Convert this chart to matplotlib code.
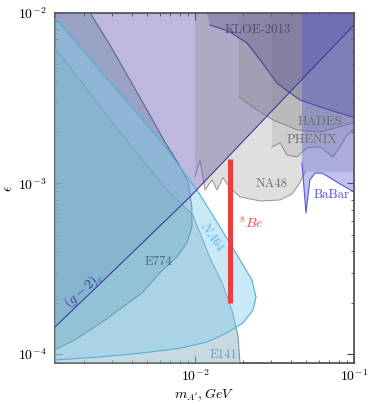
import matplotlib
matplotlib.use('Agg')
import matplotlib.pyplot as plt

plt.rcParams['font.family'] = 'serif'
plt.rcParams['font.serif'] = ['cmr10']
plt.rcParams['mathtext.fontset'] = 'cm'
plt.rcParams['axes.formatter.use_mathtext'] = True

# axis range
x_min, x_max = 1.317e-3, 0.1
y_min, y_max = 8.85e-5, 1e-2
# points used to close regions outside the visible frame
x_out_lo, x_out_hi = 1e-3, 0.2
y_out_lo, y_out_hi = 5e-5, 2e-2

# (g-2)_e bound
g2_mass = [1e-3, 1.317e-3, 3.38e-3, 9.30e-3, 3.96e-2, 0.1, 0.12]
g2_eps = [1.08e-4, 1.44e-4, 3.35e-4, 8.34e-4, 3.44e-3, 8.51e-3, 1.0e-2]

# E774 boundary (from top edge round to left edge)
e774_mass = [2.19e-3, 2.92e-3, 3.90e-3, 5.21e-3, 6.47e-3, 7.82e-3, 9.04e-3, 9.57e-3,
             9.57e-3, 8.91e-3, 7.70e-3, 6.02e-3, 4.65e-3, 2.72e-3, 1.76e-3, 1.317e-3, 1e-3]
e774_eps = [1e-2, 6.49e-3, 4.05e-3, 2.52e-3, 1.75e-3, 1.32e-3, 1.02e-3, 7.28e-4,
            5.56e-4, 4.48e-4, 3.71e-4, 2.99e-4, 2.28e-4, 1.58e-4, 1.21e-4, 1.06e-4, 9.5e-5]

# E141 boundary
e141_mass = [1e-3, 1.317e-3, 3.38e-3, 6.67e-3, 9.71e-3, 1.243e-2, 1.50e-2, 1.73e-2, 1.86e-2, 1.92e-2, 1.92e-2]
e141_eps = [7.6e-3, 6.23e-3, 2.0e-3, 9.16e-4, 6.53e-4, 3.66e-4, 2.54e-4, 1.74e-4, 1.29e-4, 8.85e-5, 5e-5]

# NA64 boundary
na64_mass = [1e-3, 1.317e-3, 3.38e-3, 6.02e-3, 1.03e-2, 1.436e-2, 1.92e-2, 2.28e-2, 2.42e-2, 2.32e-2,
             2.00e-2, 1.59e-2, 1.19e-2, 8.05e-3, 4.51e-3, 2.53e-3, 1.317e-3, 1e-3]
na64_eps = [1.3e-2, 9.35e-3, 3.35e-3, 1.80e-3, 9.16e-4, 5.56e-4, 3.56e-4, 2.72e-4, 2.16e-4, 1.81e-4,
            1.52e-4, 1.33e-4, 1.175e-4, 1.08e-4, 1.01e-4, 9.6e-5, 9.22e-5, 9.0e-5]

# NA48 lower boundary (first point is the top of its left edge)
na48_mass = [1e-2, 1e-2, 1.075e-2, 1.156e-2, 1.28e-2, 1.375e-2, 1.50e-2, 1.66e-2, 1.92e-2,
             2.57e-2, 3.43e-2, 4.07e-2, 4.57e-2, 4.92e-2]
na48_eps = [1e-2, 1.09e-3, 1.37e-3, 9.16e-4, 1.05e-3, 9.16e-4, 1.08e-3, 9.41e-4, 8.34e-4,
            7.89e-4, 8.0e-4, 8.67e-4, 1.01e-3, 1.17e-3]

# HADES lower boundary
hades_mass = [1.89e-2, 1.89e-2, 2.45e-2, 3.10e-2, 4.38e-2, 6.11e-2, 9.86e-2]
hades_eps = [1e-2, 3.22e-3, 2.70e-3, 2.36e-3, 2.06e-3, 2.00e-3, 2.26e-3]

# PHENIX lower boundary
phenix_mass = [3.05e-2, 3.05e-2, 3.43e-2, 3.79e-2, 4.38e-2, 5.06e-2, 6.11e-2, 7.38e-2, 8.17e-2, 9.04e-2, 9.86e-2]
phenix_eps = [1e-2, 1.64e-3, 1.73e-3, 1.47e-3, 1.43e-3, 1.62e-3, 1.64e-3, 1.43e-3, 1.64e-3, 1.92e-3, 2.06e-3]

# KLOE-2013 lower boundary
kloe_mass = [9.71e-3, 1.243e-2, 1.66e-2, 2.12e-2, 2.57e-2, 3.28e-2, 3.96e-2, 4.57e-2, 6.11e-2, 9.86e-2, 0.11]
kloe_eps = [1e-2, 8.51e-3, 7.74e-3, 6.67e-3, 5.30e-3, 3.88e-3, 3.40e-3, 3.09e-3, 2.81e-3, 2.45e-3, 2.4e-3]

# BaBar lower boundary
babar_mass = [4.71e-2, 4.71e-2, 4.99e-2, 5.28e-2, 5.69e-2, 6.30e-2, 7.07e-2, 8.17e-2, 0.1, 0.11]
babar_eps = [1e-2, 1.32e-3, 6.71e-4, 1.05e-3, 1.15e-3, 1.15e-3, 1.08e-3, 9.93e-4, 8.91e-4, 8.6e-4]

# 8Be anomaly
be8_mass = 0.0166
be8_eps = [2.0e-4, 1.39e-3]

fig = plt.figure(figsize=(3.74, 4.05), dpi=100)
ax = fig.add_axes([0.147, 0.1037, 0.7995, 0.8643])
ax.set_xscale('log')
ax.set_yscale('log')

# (g-2)_e excluded area
ax.fill_between(g2_mass, g2_eps, y_out_hi, facecolor='#8c7dc3', alpha=0.55, lw=0, zorder=1)

grey_edge = (0.45, 0.45, 0.45, 0.75)


def top_region(mass, eps, face, edge, lw, z):
    # region above a lower boundary, reaching the top and right of the frame
    ax.fill(mass + [x_out_hi, x_out_hi], [y_out_hi] + eps[1:] + [eps[-1], y_out_hi],
            facecolor=face, lw=0, zorder=z)
    ax.plot(mass[1:], eps[1:], color=edge, lw=lw, zorder=z)


top_region(na48_mass, na48_eps, (0.5, 0.5, 0.5, 0.25), grey_edge, 0.7, 2)
top_region(hades_mass, hades_eps, (0.5, 0.5, 0.5, 0.25), grey_edge, 0.7, 2)
top_region(phenix_mass, phenix_eps, (0.5, 0.5, 0.5, 0.18), grey_edge, 0.7, 2)
top_region(kloe_mass, kloe_eps, (0.31, 0.31, 0.55, 0.3), (0.24, 0.24, 0.55, 0.9), 0.8, 3)
top_region(babar_mass, babar_eps, (0.31, 0.31, 0.82, 0.35), (0.28, 0.28, 0.88, 0.9), 0.8, 3)

ax.fill(e141_mass + [x_out_lo], e141_eps + [y_out_lo],
        facecolor=(0.57, 0.71, 0.77, 0.5), edgecolor=(0.31, 0.53, 0.66, 0.9), lw=0.7, zorder=4)
ax.fill(e774_mass + [x_out_lo, x_out_lo], e774_eps + [y_out_hi, y_out_hi],
        facecolor=(0.33, 0.47, 0.59, 0.35), edgecolor=(0.25, 0.37, 0.47, 0.9), lw=0.7, zorder=4)
ax.fill(na64_mass, na64_eps,
        facecolor=(0.53, 0.81, 0.92, 0.45), edgecolor=(0.31, 0.69, 0.88, 1.0), lw=0.8, zorder=5)

ax.plot(g2_mass, g2_eps, color='#3c3c96', lw=0.8, zorder=6)
ax.plot([be8_mass, be8_mass], be8_eps, color='#f03c3c', lw=3.6, solid_capstyle='butt', zorder=7)

ax.text(2.49e-2, 7.95e-3, 'KLOE-2013', color='#4b4b78', fontsize=9.2, ha='center', va='center', zorder=8)
ax.text(6.11e-2, 2.30e-3, 'HADES', color='#6e6e6e', fontsize=9.2, ha='center', va='center', zorder=8)
ax.text(5.44e-2, 1.80e-3, 'PHENIX', color='#6e6e6e', fontsize=9.2, ha='center', va='center', zorder=8)
ax.text(3.05e-2, 9.93e-4, 'NA48', color='#6e6e6e', fontsize=9.2, ha='center', va='center', zorder=8)
ax.text(7.27e-2, 8.57e-4, 'BaBar', color='#5050dc', fontsize=9.2, ha='center', va='center', zorder=8)
ax.text(1.89e-2, 5.86e-4, r'$^8Be$', color='#f04848', fontsize=10, ha='left', va='center', zorder=8)
ax.text(1.28e-2, 4.85e-4, r'$NA64$', color='#5ab4e6', fontsize=9, ha='center', va='center',
        rotation=-56, zorder=8)
ax.text(5.85e-3, 3.47e-4, 'E774', color='#4a6a82', fontsize=9.2, ha='center', va='center', zorder=8)
ax.text(1.98e-3, 2.37e-4, r'$(g-2)_e$', color='#3c3ca0', fontsize=10, ha='center', va='center',
        rotation=42, zorder=8)
ax.text(1.50e-2, 9.86e-5, 'E141', color='#6a9cbc', fontsize=9.2, ha='center', va='center', zorder=8)

ax.set_xlim(x_min, x_max)
ax.set_ylim(y_min, y_max)
ax.set_xlabel(r"$m_{A'}, GeV$", fontsize=10, labelpad=2)
ax.set_ylabel(r'$\epsilon$', fontsize=10, labelpad=2)

ax.tick_params(which='both', direction='in', top=True, right=True, color='#444444', labelsize=10)
ax.tick_params(which='major', length=5, width=0.8)
ax.tick_params(which='minor', length=2.5, width=0.6)
ax.tick_params(axis='x', which='major', pad=3.5)
ax.tick_params(axis='y', which='major', pad=6)
for s in ax.spines.values():
    s.set_color('#555555')
    s.set_linewidth(1.3)

fig.savefig('out.png', dpi=100)
